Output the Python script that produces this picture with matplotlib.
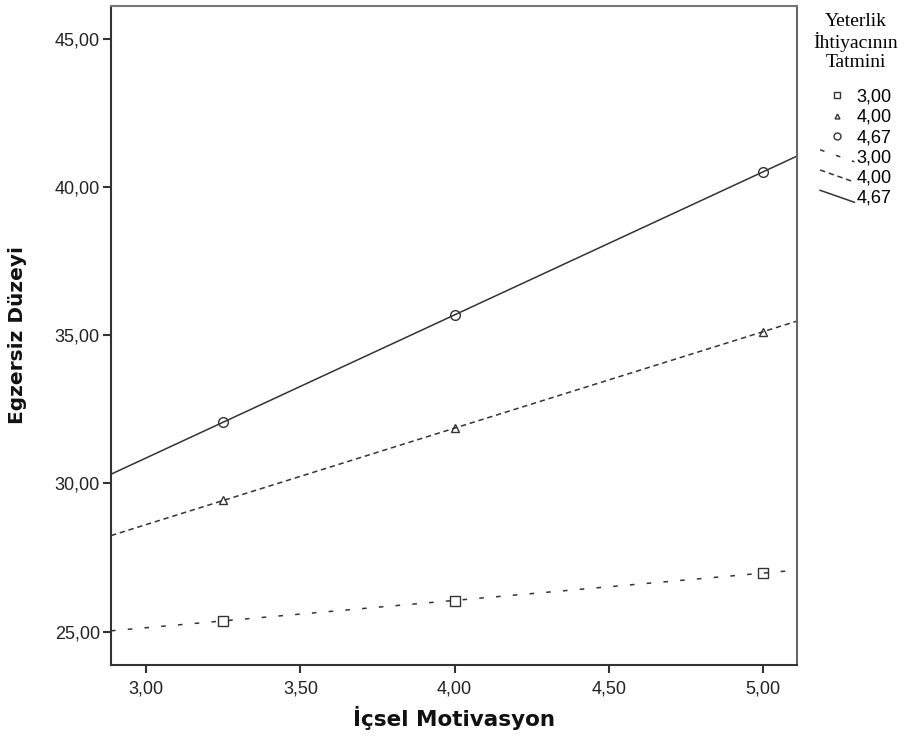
import numpy as np
import matplotlib
matplotlib.use("Agg")
import matplotlib.pyplot as plt
from matplotlib.lines import Line2D
from matplotlib.legend_handler import HandlerBase
from matplotlib.ticker import FuncFormatter

# x values where the group means are shown
x_points = [3.25, 4.00, 5.00]

# groups of "Yeterlik Ihtiyacinin Tatmini"
groups = ["3,00", "4,00", "4,67"]
y_300 = [25.37, 26.05, 26.98]
y_400 = [29.43, 31.86, 35.12]
y_467 = [32.07, 35.68, 40.51]

x_ticks = [3.0, 3.5, 4.0, 4.5, 5.0]
y_ticks = [25, 30, 35, 40, 45]

col = "#333333"


class SlantLine(HandlerBase):
    # legend line drawn from upper left to lower right, as in the original
    def __init__(self, ls):
        super().__init__()
        self.ls = ls

    def create_artists(self, legend, orig, xd, yd, w, h, fontsize, trans):
        ln = Line2D([-xd, -xd + w], [-yd + h, -yd + h * 0.05],
                    color=orig.get_color(), lw=orig.get_linewidth(),
                    ls=self.ls)
        ln.set_transform(trans)
        return [ln]


fig = plt.figure(figsize=(9.12, 7.4), dpi=100)
ax = fig.add_axes([0.1217, 0.1014, 0.7522, 0.8905])
xlim = (2.886, 5.11)
ax.set_xlim(xlim)
ax.set_ylim(23.88, 46.1)

series = [
    (y_300, "s", (0, (3, 8)), 7),
    (y_400, "^", (0, (3.5, 2.5)), 5.5),
    (y_467, "o", "-", 7),
]

# fitted lines across the whole x range
xx = np.array(xlim)
for ys, mk, ls, ms in series:
    k, b = np.polyfit(x_points, ys, 1)
    ax.plot(xx, k * xx + b, color=col, lw=1.1, ls=ls, zorder=2)
    ax.plot(x_points, ys, ls="none", marker=mk, ms=ms, mfc="none",
            mec=col, mew=1.0, zorder=3)

ax.set_xticks(x_ticks)
ax.set_yticks(y_ticks)
fmt = FuncFormatter(lambda v, p: f"{v:.2f}".replace(".", ","))
ax.xaxis.set_major_formatter(fmt)
ax.yaxis.set_major_formatter(fmt)
ax.tick_params(direction="out", length=6, width=1.5, color=col,
               labelsize=13, labelcolor="#222222", pad=2)
ax.tick_params(axis="x", pad=5)
for lab in ax.get_xticklabels() + ax.get_yticklabels():
    lab.set_family("Liberation Sans")
for s in ax.spines.values():
    s.set_color(col)
    s.set_linewidth(1.5)
ax.spines["top"].set_color("#777777")
ax.spines["right"].set_color("#666666")

ax.set_xlabel("İçsel Motivasyon", fontsize=15.5, fontweight="bold",
              labelpad=6, color="#111111")
ax.set_ylabel("Egzersiz Düzeyi", fontsize=14.5, fontweight="bold",
              labelpad=20, color="#111111")

# legend: markers first, then lines
handles = []
labels = []
for (ys, mk, ls, ms), g in zip(series, groups):
    handles.append(Line2D([], [], ls="none", marker=mk, ms=ms - 2,
                          mfc="none", mec=col, mew=1.0))
    labels.append(g)
hmap = {}
for (ys, mk, ls, ms), g in zip(series, groups):
    h = Line2D([], [], color=col, lw=1.1)
    handles.append(h)
    hmap[h] = SlantLine(ls)
    labels.append(g)

leg = fig.legend(handles, labels, loc="upper left",
                 bbox_to_anchor=(0.884, 0.992), frameon=False,
                 title="Yeterlik\nİhtiyacının\nTatmini",
                 prop={"family": "Liberation Sans", "size": 13},
                 handlelength=1.9, handletextpad=0.1, labelspacing=0.18,
                 borderaxespad=0, handler_map=hmap)
leg.get_title().set_family("Liberation Serif")
leg.get_title().set_fontsize(14)
leg.get_title().set_multialignment("center")
leg.get_title().set_linespacing(1.12)
leg._legend_box.sep = 13

fig.savefig("out.png", dpi=100, facecolor="white")
